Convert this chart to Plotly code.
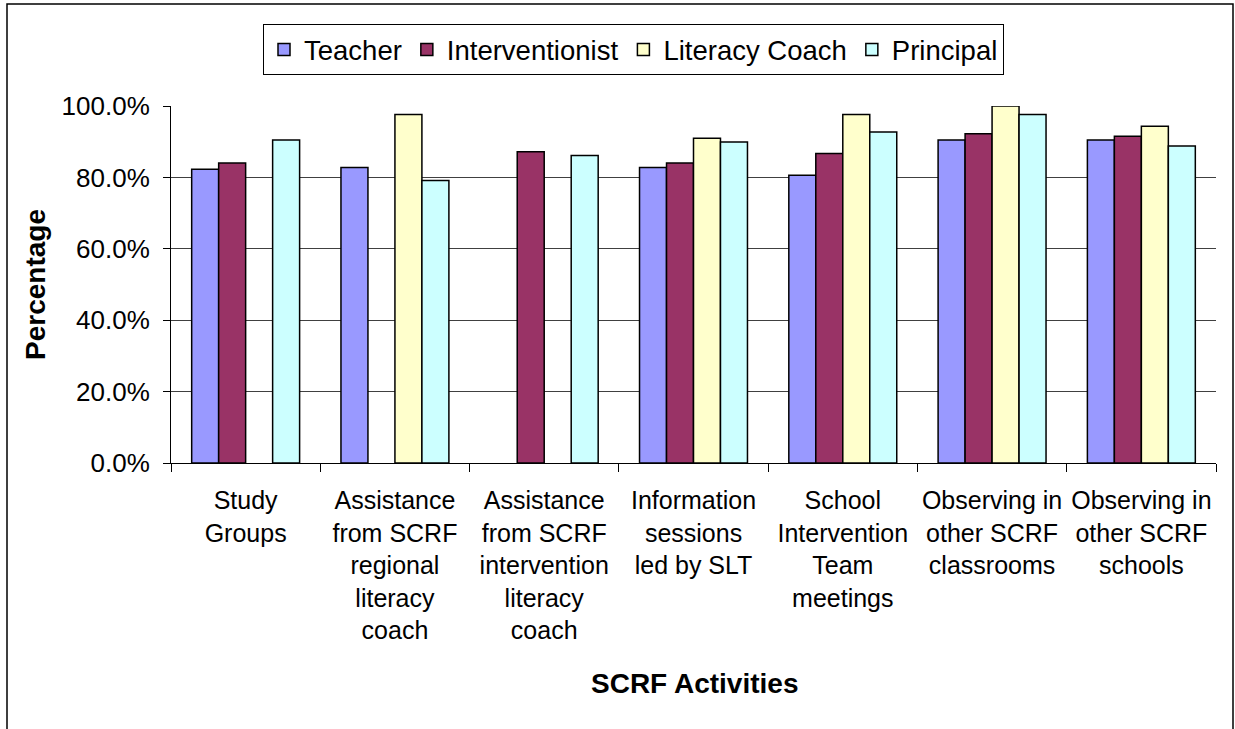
import plotly.graph_objects as go

categories = [
    "Study<br>Groups",
    "Assistance<br>from SCRF<br>regional<br>literacy<br>coach",
    "Assistance<br>from SCRF<br>intervention<br>literacy<br>coach",
    "Information<br>sessions<br>led by SLT",
    "School<br>Intervention<br>Team<br>meetings",
    "Observing in<br>other SCRF<br>classrooms",
    "Observing in<br>other SCRF<br>schools",
]
series_names = ["Teacher", "Interventionist", "Literacy Coach", "Principal"]
teacher = [0.823, 0.828, None, 0.828, 0.806, 0.905, 0.905]
interventionist = [0.840, None, 0.872, 0.840, 0.867, 0.922, 0.915]
literacy_coach = [None, 0.976, None, 0.910, 0.976, 1.000, 0.943]
principal = [0.905, 0.791, 0.861, 0.899, 0.927, 0.976, 0.888]
series_values = [teacher, interventionist, literacy_coach, principal]
colors = ["#9999FF", "#993366", "#FFFFCC", "#CCFFFF"]

W, H = 1235, 729
L, R, T, B = 171, 1216, 106, 463

def px(x):
    return (x - L) / (R - L)

def py(y):
    return (B - y) / (B - T)

fig = go.Figure()
for name, vals, col in zip(series_names, series_values, colors):
    fig.add_trace(go.Bar(
        x=categories, y=vals, name=name,
        marker=dict(color=col, line=dict(color="black", width=1.5)),
    ))

FONT = "Liberation Sans, Arial, sans-serif"

fig.update_layout(
    width=W, height=H, autosize=False,
    margin=dict(l=L, r=W - R, t=T, b=H - B, autoexpand=False),
    paper_bgcolor="white", plot_bgcolor="white",
    barmode="group", bargap=0.277, bargroupgap=0,
    font=dict(family=FONT, color="black"),
    showlegend=True,
    legend=dict(
        orientation="h", x=px(263), y=py(24), xanchor="left", yanchor="top",
        font=dict(family=FONT, size=27.5, color="black"),
        bordercolor="black", borderwidth=1, bgcolor="white",
        itemwidth=30, tracegroupgap=0,
    ),
    xaxis=dict(
        type="category", showline=True, linecolor="black", linewidth=1,
        ticks="outside", tickson="boundaries", ticklen=8, tickcolor="black",
        tickangle=0, automargin=False, ticklabelstandoff=15,
        tickfont=dict(family=FONT, size=25, color="black"),
        showgrid=False, zeroline=False, fixedrange=True,
    ),
    yaxis=dict(
        range=[0, 1], dtick=0.2, tick0=0, tickformat=".1%",
        showline=True, linecolor="black", linewidth=1,
        ticks="outside", ticklen=7, tickcolor="black", automargin=False,
        ticklabelstandoff=8,
        tickfont=dict(family=FONT, size=26, color="black"),
        showgrid=True, gridcolor="#404040", gridwidth=1,
        zeroline=False, fixedrange=True,
    ),
    annotations=[
        dict(text="<b>SCRF Activities</b>", x=px(694), y=py(683),
             xref="paper", yref="paper", showarrow=False,
             xanchor="center", yanchor="middle",
             font=dict(family=FONT, size=28, color="black")),
        dict(text="<b>Percentage</b>", x=px(35), y=py(285),
             xref="paper", yref="paper", showarrow=False, textangle=-90,
             xanchor="center", yanchor="middle",
             font=dict(family=FONT, size=28, color="black")),
    ],
    shapes=[
        dict(type="rect", xref="paper", yref="paper",
             x0=px(7), x1=px(1233), y0=py(760), y1=py(4),
             line=dict(color="black", width=1.5), fillcolor="rgba(0,0,0,0)",
             layer="below"),
    ],
)

fig.write_html(
    "out.html",
    config={"displayModeBar": False},
    post_script="document.body.style.margin='0px';document.body.style.overflow='hidden';",
)
